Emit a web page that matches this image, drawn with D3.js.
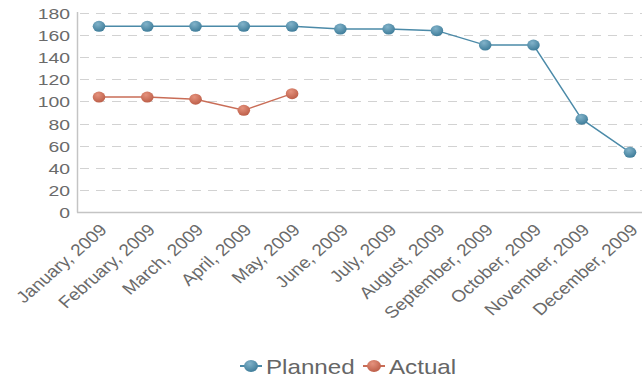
<!DOCTYPE html>
<html>
<head>
<meta charset="utf-8">
<script src="https://cdn.jsdelivr.net/npm/d3@7"></script>
<style>
  body { margin: 0; background: #fff; }
  svg { display: block; font-family: "Liberation Sans", Arial, sans-serif; }
</style>
</head>
<body>
<div id="chart"></div>
<script>
// Data
const months = ['January, 2009', 'February, 2009', 'March, 2009', 'April, 2009', 'May, 2009', 'June, 2009',
  'July, 2009', 'August, 2009', 'September, 2009', 'October, 2009', 'November, 2009', 'December, 2009'];
const planned = [168, 168, 168, 168, 168, 165.5, 165.5, 164, 151, 151, 84, 54];
const actual = [104, 104, 102, 92, 107];
const yTicks = [0, 20, 40, 60, 80, 100, 120, 140, 160, 180];

const W = 642, H = 379;
const AXIS_X = 77, Y0 = 212, Y1 = 13;
const STRETCH = 1.2;   // the reference is drawn slightly wide

const svg = d3.select('#chart').append('svg')
  .attr('width', W).attr('height', H);

const defs = svg.append('defs');
function ballGradient(id, light, dark) {
  const g = defs.append('radialGradient').attr('id', id)
    .attr('cx', '40%').attr('cy', '30%').attr('r', '70%');
  g.append('stop').attr('offset', '0%').attr('stop-color', light);
  g.append('stop').attr('offset', '100%').attr('stop-color', dark);
}
ballGradient('gPlanned', '#82b3ca', '#3f7d9a');
ballGradient('gActual', '#e5927d', '#bd5f49');

const x = d3.scalePoint().domain(months).range([99, 630]);
const y = d3.scaleLinear().domain([0, 180]).range([Y0, Y1]);

// Dashed grid
svg.append('g')
  .selectAll('line').data(yTicks.filter(d => d > 0)).enter().append('line')
  .attr('x1', AXIS_X + 3).attr('x2', W)
  .attr('y1', d => Math.round(y(d)) + 0.5).attr('y2', d => Math.round(y(d)) + 0.5)
  .attr('stroke', '#d2d2d2').attr('stroke-width', 1)
  .attr('stroke-dasharray', '9,7');

// Axis lines
svg.append('line').attr('x1', AXIS_X + 0.5).attr('x2', AXIS_X + 0.5)
  .attr('y1', Y1 - 1).attr('y2', Y0 + 0.5).attr('stroke', '#c4c4c4').attr('stroke-width', 1.5);
svg.append('line').attr('x1', AXIS_X).attr('x2', W)
  .attr('y1', Y0 + 0.5).attr('y2', Y0 + 0.5).attr('stroke', '#c4c4c4').attr('stroke-width', 1.5);

// Y labels
const yAxis = d3.axisLeft(y).tickValues(yTicks).tickSize(0).tickPadding(0);
svg.append('g')
  .call(yAxis)
  .call(g => g.select('.domain').remove())
  .call(g => g.selectAll('.tick').attr('transform', d => `translate(${AXIS_X - 7},${y(d) + 1})`))
  .selectAll('text')
  .attr('x', 0).attr('dy', '0.32em')
  .attr('transform', `scale(${STRETCH + 0.05},1)`)
  .attr('font-size', 15.5).attr('fill', '#6a6a6a').attr('font-family', '"Liberation Sans", Arial, sans-serif');

// X labels, rotated
const xAxis = d3.axisBottom(x).tickSize(0).tickPadding(0);
svg.append('g')
  .call(xAxis)
  .call(g => g.select('.domain').remove())
  .call(g => g.selectAll('.tick').attr('transform', d => `translate(${x(d) + 9},${Y0 + 19})`))
  .selectAll('text')
  .attr('font-size', 16.5).attr('fill', '#6a6a6a').attr('font-family', '"Liberation Sans", Arial, sans-serif')
  .attr('text-anchor', 'end')
  .attr('dy', 0).attr('y', 0)
  .attr('transform', `scale(${STRETCH - 0.05},1) rotate(-45)`);

// Series
const line = d3.line().x((d, i) => x(months[i])).y(d => y(d));
function drawSeries(vals, color, grad) {
  const g = svg.append('g');
  g.append('path').datum(vals).attr('d', line)
    .attr('fill', 'none').attr('stroke', color).attr('stroke-width', 1.4);
  g.selectAll('ellipse').data(vals).enter().append('ellipse')
    .attr('cx', (d, i) => x(months[i])).attr('cy', d => y(d))
    .attr('rx', 6.3).attr('ry', 5.5).attr('fill', `url(#${grad})`);
}
drawSeries(planned, '#4b8aa8', 'gPlanned');
drawSeries(actual, '#c96d57', 'gActual');

// Legend
const legend = [
  { name: 'Planned', color: '#4b8aa8', grad: 'gPlanned', x: 251 },
  { name: 'Actual', color: '#c96d57', grad: 'gActual', x: 374 }
];
const lg = svg.append('g');
legend.forEach(l => {
  const g = lg.append('g').attr('transform', `translate(${l.x},366)`);
  g.append('line').attr('x1', -11).attr('x2', 11).attr('stroke', l.color).attr('stroke-width', 2);
  g.append('ellipse').attr('rx', 7).attr('ry', 6).attr('fill', `url(#${l.grad})`);
  g.append('text').attr('x', 15 / 1.18).attr('y', 7.5)
    .attr('transform', 'scale(1.18,1)')
    .attr('font-size', 20.5).attr('fill', '#666').text(l.name);
});
</script>
</body>
</html>
